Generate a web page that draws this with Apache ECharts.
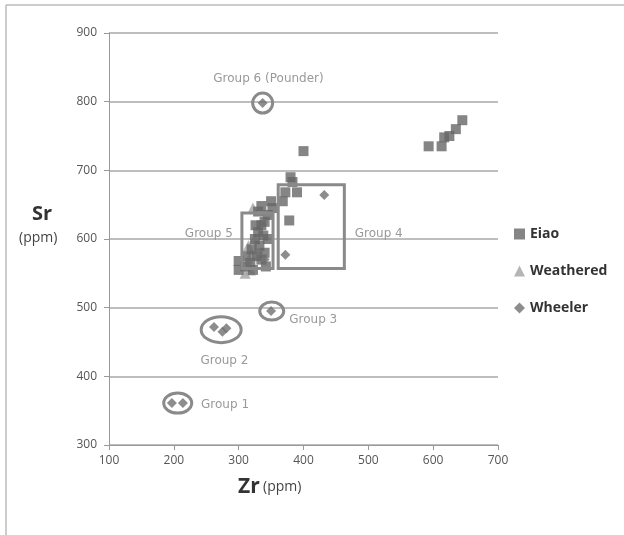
<!DOCTYPE html>
<html><head><meta charset="utf-8">
<script src="https://cdn.jsdelivr.net/npm/echarts@6/dist/echarts.min.js"></script>
<style>html,body{margin:0;padding:0;background:#fff}#c{width:624px;height:535px}</style>
</head><body><div id="c"></div>
<script>
const xTicks = [100,200,300,400,500,600,700];
const yTicks = [300,400,500,600,700,800,900];

const eiao = [
  [400,728],[380,690],[383,683],[390,668],[372,668],[368,655],[350,655],[352,645],
  [345,635],[340,625],[335,620],[330,610],[338,605],[325,600],[332,590],[320,585],
  [328,575],[335,570],[318,565],[312,575],[340,580],[300,568],[300,555],[310,560],
  [322,555],[342,560],[330,640],[345,600],[378,627],[335,648],[326,620],
  [593,735],[613,735],[617,748],[625,750],[635,760],[645,773]
];
const weathered = [[322,645],[320,578],[310,550],[318,555],[325,600],[315,590]];
const wheeler = [
  [337,798],[432,664],[372,577],[350,495],[262,472],[275,465],[281,470],
  [197,361],[214,361],[315,565],[330,580],[340,570]
];

// annotation shapes (data coordinates)
const boxes = [[305,638,353,557],[361,679,463,557]];
const ellipses = [[337,798,10,10],[351,495,12,9],[273,468,20,13],[206,361,14,10]];
const groupLabels = [
  ['Group 6 (Pounder)',346,833,'center'],
  ['Group 5',291,607,'right'],
  ['Group 4',479,607,'left'],
  ['Group 3',378,482,'left'],
  ['Group 2',278,423,'center'],
  ['Group 1',242,358,'left']
];

const chart = echarts.init(document.getElementById('c'));
const gray = '#8a8a8a';
chart.setOption({
  animation:false,
  grid:{left:109,right:126,top:33,bottom:90},
  xAxis:{type:'value',min:xTicks[0],max:xTicks[xTicks.length-1],interval:100,
    axisLine:{lineStyle:{color:'#999'}},axisTick:{show:true,length:5,lineStyle:{color:'#999'}},
    splitLine:{show:false},
    axisLabel:{color:'#555',fontSize:12,fontFamily:'Open Sans',margin:10}},
  yAxis:{type:'value',min:yTicks[0],max:yTicks[yTicks.length-1],interval:100,
    axisLine:{show:true,lineStyle:{color:'#999'}},axisTick:{show:true,length:5,lineStyle:{color:'#999'}},
    splitLine:{lineStyle:{color:'#a8a8a8',width:1.5}},
    axisLabel:{color:'#555',fontSize:12,fontFamily:'Open Sans',margin:12}},
  legend:{orient:'vertical',left:509,top:222,itemGap:23,itemWidth:11,itemHeight:11,
    data:['Eiao','Weathered','Wheeler'],
    textStyle:{color:'#333',fontWeight:'bold',fontSize:14,fontFamily:'Open Sans'}},
  graphic:[
    {type:'line',shape:{x1:6,y1:5,x2:624,y2:5},style:{stroke:'#bbb',lineWidth:1.5}},
    {type:'line',shape:{x1:6,y1:5,x2:6,y2:535},style:{stroke:'#bbb',lineWidth:1.5}},
    {type:'text',left:32,top:204,style:{text:'Sr',font:'bold 20px "Open Sans"',fill:'#333'}},
    {type:'text',left:19,top:231,style:{text:'(ppm)',font:'14px "Open Sans"',fill:'#444'}},
    {type:'text',left:238,top:477,style:{rich:{a:{font:'bold 21px "Open Sans"',fill:'#333'},b:{font:'14px "Open Sans"',fill:'#444'}},text:'{a|Zr} {b|(ppm)}'}}
  ],
  series:[
    {name:'Eiao',type:'scatter',data:eiao,symbol:'rect',symbolSize:10,itemStyle:{color:'#666'},z:3},
    {name:'Weathered',type:'scatter',data:weathered,symbol:'triangle',symbolSize:11,itemStyle:{color:'#a3a3a3'},z:2},
    {name:'Wheeler',type:'scatter',data:wheeler,symbol:'diamond',symbolSize:10,itemStyle:{color:'#707070'},z:4},
    {type:'custom',data:boxes,z:5,silent:true,renderItem:function(p,api){
      const a=api.coord([api.value(0),api.value(1)]);const b=api.coord([api.value(2),api.value(3)]);
      return {type:'rect',shape:{x:a[0],y:a[1],width:b[0]-a[0],height:b[1]-a[1]},
        style:{fill:'none',stroke:gray,lineWidth:3}};}},
    {type:'custom',data:ellipses,z:5,silent:true,renderItem:function(p,api){
      const c=api.coord([api.value(0),api.value(1)]);
      return {type:'ellipse',shape:{cx:c[0],cy:c[1],rx:api.value(2),ry:api.value(3)},
        style:{fill:'none',stroke:gray,lineWidth:3}};}},
    {type:'custom',data:groupLabels.map(g=>[g[1],g[2]]),z:6,silent:true,
      renderItem:function(p,api){
        const d=groupLabels[p.dataIndex];
        const c=api.coord([api.value(0),api.value(1)]);
        return {type:'text',x:c[0],y:c[1],style:{text:d[0],fill:'#999',font:'12px "DejaVu Sans"',
          align:d[3],verticalAlign:'middle'}};}}
  ]
});
</script></body></html>
